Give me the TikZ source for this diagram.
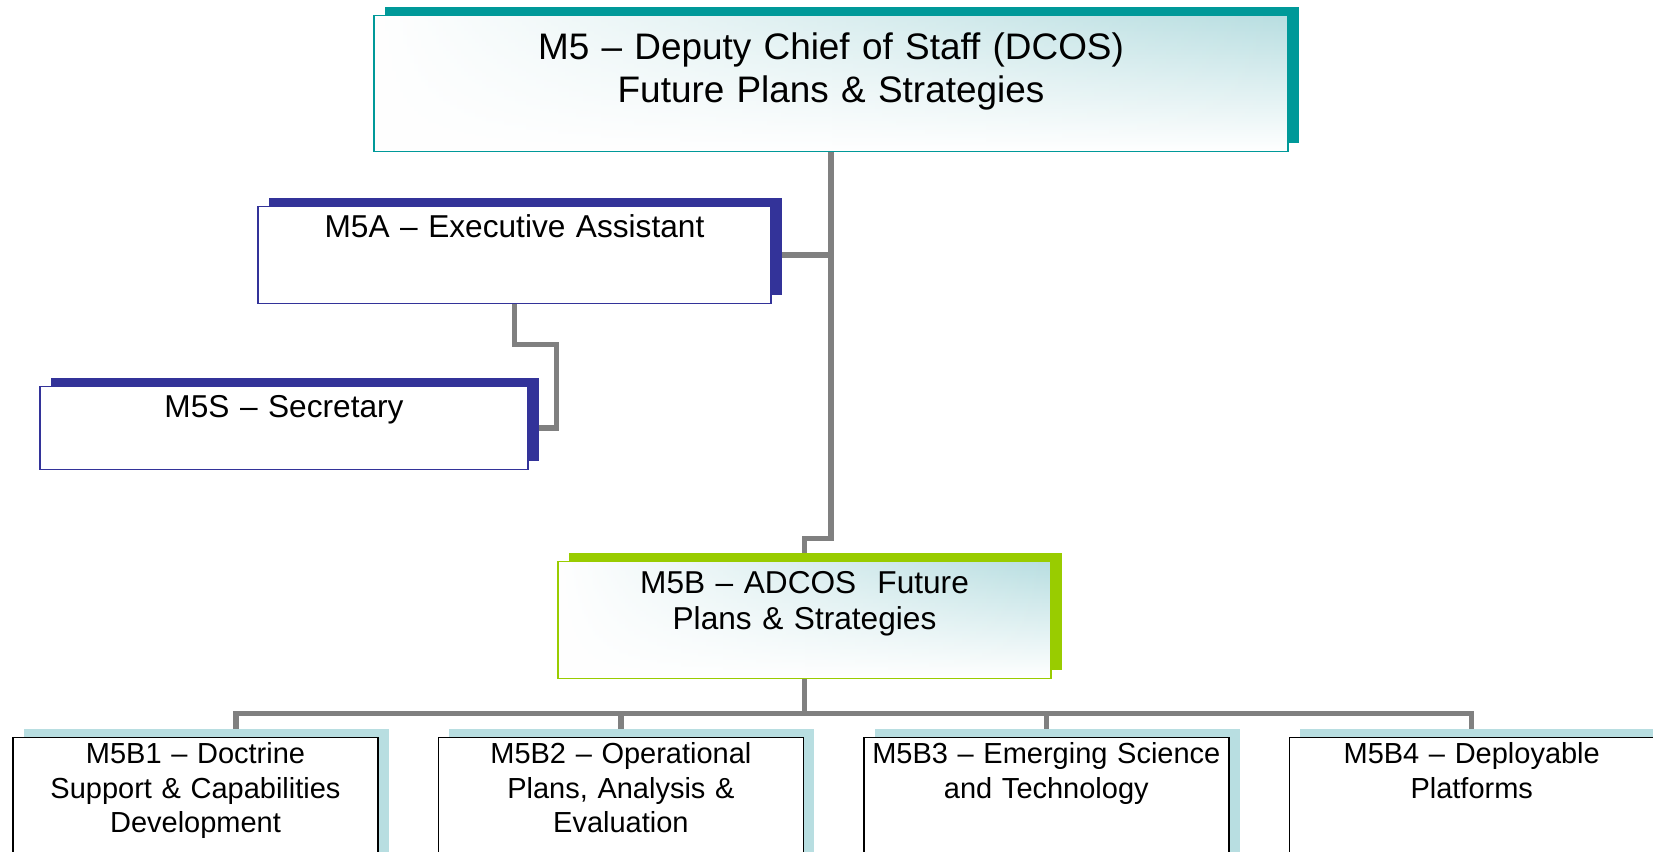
\documentclass[tikz,border=0pt]{standalone}
\usepackage{fontspec}
\setmainfont{Liberation Sans}
\usetikzlibrary{positioning,shadows,backgrounds,fadings}
\definecolor{dcosteal}{HTML}{009999}
\definecolor{eanavy}{HTML}{333399}
\definecolor{adcosgreen}{HTML}{99CC00}
\definecolor{palecyan}{HTML}{B8DEE1}
\tikzset{
  unit/.style = {draw, fill=white, anchor=north, align=center,
    inner xsep=0pt, inner ysep=0pt, line width=0.8pt},
  unitshadow/.style = {drop shadow={shadow xshift=0.22cm, shadow yshift=0.18cm,
    fill=#1, opacity=1}},
  tinted/.style = {path picture={
    \shade[top color=palecyan, bottom color=white, path fading=west]
      (path picture bounding box.south west) rectangle (path picture bounding box.north east);}},
  conn/.style = {draw=gray, line width=0.11cm}
}
\begin{document}
\begin{tikzpicture}
  \useasboundingbox (0,0) rectangle (33.06,-17.04);
  \node[unit, draw=dcosteal, tinted, unitshadow=dcosteal, text width=18.28cm,
    text height=0.88cm, text depth=1.84cm, font=\fontsize{21}{24.5}\selectfont]
    (m5) at (16.62,-0.30) {M5 -- Deputy Chief of Staff (DCOS)\\Future Plans \& Strategies};
  \node[unit, draw=eanavy, unitshadow=eanavy, text width=10.26cm,
    text height=0.61cm, text depth=1.33cm, font=\fontsize{18}{20.5}\selectfont]
    (m5a) at (10.29,-4.12) {M5A -- Executive Assistant};
  \node[unit, draw=eanavy, unitshadow=eanavy, text width=9.76cm,
    text height=0.62cm, text depth=1.04cm, font=\fontsize{18}{20.5}\selectfont]
    (m5s) at (5.68,-7.72) {M5S -- Secretary};
  \node[unit, draw=adcosgreen, tinted, unitshadow=adcosgreen, text width=9.86cm,
    text height=0.64cm, text depth=1.70cm, font=\fontsize{18}{20.5}\selectfont]
    (m5b) at (16.09,-11.22) {M5B -- ADCOS\ \ Future\\Plans \& Strategies};

  \tikzset{every node/.append style={unit, unitshadow=palecyan, text width=7.30cm,
    text height=0.52cm, text depth=2.54cm, font=\fontsize{16.5}{19.6}\selectfont}}
  \node (b1) at (3.91,-14.74) {M5B1 -- Doctrine\\Support \& Capabilities\\Development};
  \node[right=1.18cm of b1] (b2) {M5B2 -- Operational\\Plans, Analysis \&\\Evaluation};
  \node[right=1.18cm of b2] (b3) {M5B3 -- Emerging Science\\and Technology};
  \node[right=1.18cm of b3] (b4) {M5B4 -- Deployable\\Platforms};

  \begin{scope}[on background layer]
    \draw[conn] (m5.south) -- ++(0,-7.72) -| (m5b.north);
    \draw[conn] (m5a.east) -| (m5.south);
    \draw[conn] (m5a.south) -- ++(0,-0.8) -| ([xshift=0.56cm]m5s.east) -- (m5s.east);
    \draw[conn] (m5b.south) -- ++(0,-0.68) coordinate (bus);
    \draw[conn] ([xshift=0.81cm]b1.north) |- (bus) -| (b4.north);
    \draw[conn] (bus) -| (b2.north);
    \draw[conn] (bus) -| (b3.north);
  \end{scope}
\end{tikzpicture}
\end{document}
